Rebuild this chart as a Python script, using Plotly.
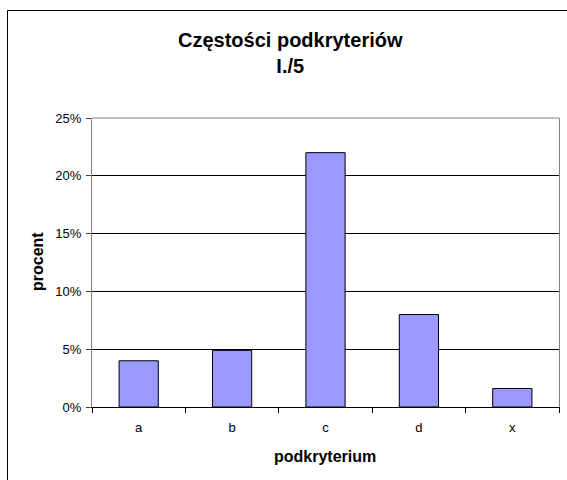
import plotly.graph_objects as go

categories = ["a", "b", "c", "d", "x"]
values = [4.0, 4.9, 22.0, 8.0, 1.6]
y_ticks = [0, 5, 10, 15, 20, 25]
y_tick_labels = ["0%", "5%", "10%", "15%", "20%", "25%"]

W, H = 567, 480
L, R, T, B = 92, 559, 118, 407
pw, ph = R - L, B - T

def px(x):
    return (x - L) / pw

def py(y):
    return (B - y) / ph

font = "Liberation Sans, Arial, sans-serif"

fig = go.Figure(go.Bar(
    x=categories, y=values,
    marker=dict(color="#9999FF", line=dict(color="black", width=1)),
    width=0.42,
))

fig.update_layout(
    width=W, height=H,
    margin=dict(l=L, r=W - R, t=T, b=H - B, pad=0),
    paper_bgcolor="white", plot_bgcolor="white",
    showlegend=False,
    font=dict(family=font, color="black", size=13),
    xaxis=dict(
        type="category", tickson="boundaries", ticks="outside", ticklen=5,
        tickcolor="black", showline=True, linecolor="black", linewidth=1,
        showgrid=False, tickfont=dict(size=13), ticklabelstandoff=8,
        fixedrange=True,
    ),
    yaxis=dict(
        range=[0, 25], tickvals=y_ticks, ticktext=y_tick_labels,
        ticks="outside", ticklen=5, tickcolor="#404040",
        showline=True, linecolor="#808080", linewidth=1, mirror=True,
        showgrid=True, gridcolor="black", gridwidth=1,
        zeroline=False, tickfont=dict(size=13), ticklabelstandoff=2,
    ),
    annotations=[
        dict(text="<b>Częstości podkryteriów<br>I./5</b>", xref="paper", yref="paper",
             x=px(290), y=py(53), xanchor="center", yanchor="middle",
             showarrow=False, font=dict(size=20, family=font)),
        dict(text="<b>procent</b>", xref="paper", yref="paper",
             x=px(37), y=py(262), xanchor="center", yanchor="middle",
             textangle=-90, showarrow=False, font=dict(size=16, family=font)),
        dict(text="<b>podkryterium</b>", xref="paper", yref="paper",
             x=px(325), y=py(456), xanchor="center", yanchor="middle",
             showarrow=False, font=dict(size=16, family=font)),
    ],
    shapes=[
        dict(type="line", xref="paper", yref="paper", x0=0, x1=1, y0=1, y1=1,
             line=dict(color="#808080", width=1), layer="above"),
        dict(type="rect", xref="paper", yref="paper",
             x0=px(7.5), x1=px(600), y0=py(10.5), y1=py(520),
             line=dict(color="black", width=1), layer="below"),
    ],
)

fig.write_html("out.html", config={"displayModeBar": False},
               post_script="document.body.style.margin='0';document.body.style.overflow='hidden';")
